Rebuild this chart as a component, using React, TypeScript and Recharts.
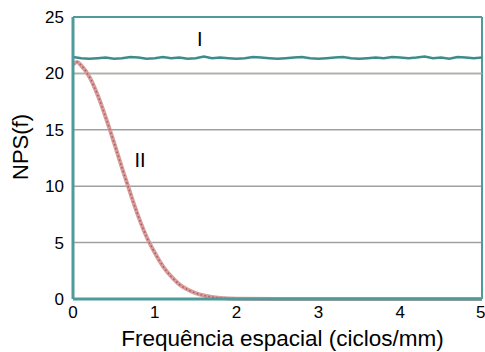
import { LineChart, Line, XAxis, YAxis, CartesianGrid, ReferenceLine, ReferenceDot } from "recharts";

const freqI = [0, 0.1, 0.2, 0.3, 0.4, 0.5, 0.6, 0.7, 0.8, 0.9, 1, 1.1, 1.2, 1.3, 1.4, 1.5, 1.6, 1.7, 1.8, 1.9, 2, 2.1, 2.2, 2.3, 2.4, 2.5, 2.6, 2.7, 2.8, 2.9, 3, 3.1, 3.2, 3.3, 3.4, 3.5, 3.6, 3.7, 3.8, 3.9, 4, 4.1, 4.2, 4.3, 4.4, 4.5, 4.6, 4.7, 4.8, 4.9, 5];
const npsI = [21.45, 21.35, 21.3, 21.35, 21.4, 21.3, 21.35, 21.45, 21.4, 21.3, 21.35, 21.45, 21.35, 21.4, 21.3, 21.35, 21.5, 21.35, 21.4, 21.35, 21.3, 21.35, 21.45, 21.4, 21.35, 21.3, 21.35, 21.4, 21.45, 21.35, 21.3, 21.35, 21.4, 21.45, 21.35, 21.3, 21.35, 21.4, 21.35, 21.45, 21.4, 21.35, 21.4, 21.5, 21.35, 21.4, 21.3, 21.45, 21.4, 21.35, 21.4];

const freqII = [0, 0.05, 0.1, 0.2, 0.3, 0.4, 0.5, 0.6, 0.7, 0.8, 0.9, 1, 1.1, 1.2, 1.3, 1.4, 1.5, 1.6, 1.7, 1.8, 1.9, 2, 2.5, 3, 3.5, 4, 4.5, 5];
const npsII = [20.8, 21.0, 20.7, 19.7, 18.1, 16.1, 13.9, 11.6, 9.4, 7.3, 5.5, 4.1, 2.9, 2.0, 1.3, 0.84, 0.52, 0.31, 0.18, 0.1, 0.05, 0.03, 0, 0, 0, 0, 0, 0];

const xTicks = [0, 1, 2, 3, 4, 5];
const yTicks = [0, 5, 10, 15, 20, 25];

const seriesI = freqI.map((x, i) => ({ x, y: npsI[i] }));
const seriesII = freqII.map((x, i) => ({ x, y: npsII[i] }));

const font = "Arial, 'Liberation Sans', sans-serif";
const teal = "#4f9a9a";

// y axis title sits a little above the plot's middle, as in the source figure
const yTitle = () => (
  <text x={28} y={147} transform="rotate(-90 28 147)" textAnchor="middle" fill="#000" fontSize={22} fontFamily={font}>
    NPS(f)
  </text>
);

export default function App() {
  return (
    <div style={{ position: "absolute", left: 0, top: 0, background: "#fff" }}>
      <LineChart width={485} height={352} margin={{ top: 17, right: 3, bottom: 0, left: 0 }}>
        <CartesianGrid horizontal vertical={false} stroke="#a0a0a0" strokeWidth={1.5} />
        <XAxis
          type="number"
          dataKey="x"
          domain={[0, 5]}
          ticks={xTicks}
          height={53}
          axisLine={{ stroke: teal, strokeWidth: 3 }}
          tickLine={false}
          tick={{ fill: "#000", fontSize: 17, fontFamily: font }}
          tickMargin={1}
          label={{ value: "Frequência espacial (ciclos/mm)", position: "insideBottom", offset: 6, fill: "#000", fontSize: 22.5, fontFamily: font, dx: 5 }}
        />
        <YAxis
          type="number"
          domain={[0, 25]}
          ticks={yTicks}
          width={73}
          axisLine={{ stroke: teal, strokeWidth: 3 }}
          tickLine={false}
          tick={{ fill: "#000", fontSize: 17, fontFamily: font }}
          tickMargin={3}
          label={yTitle}
        />
        <ReferenceLine y={25} stroke={teal} strokeWidth={2} />
        <ReferenceLine x={5} stroke={teal} strokeWidth={2} />
        <ReferenceLine y={20} stroke="#a9b3a0" strokeWidth={1.5} />
        <Line data={seriesII} dataKey="y" type="monotone" stroke="#d79c9c" strokeWidth={4} dot={false} isAnimationActive={false} />
        <Line data={seriesII} dataKey="y" type="monotone" stroke="#b05858" strokeWidth={1.5} strokeDasharray="1.5 2.5" dot={false} isAnimationActive={false} />
        <Line data={seriesI} dataKey="y" type="linear" stroke="#3d8c8c" strokeWidth={2.5} dot={false} isAnimationActive={false} />
        <ReferenceDot x={1.55} y={23.1} r={0} label={{ value: "I", fill: "#000", fontSize: 20, fontFamily: font }} />
        <ReferenceDot x={0.82} y={12.3} r={0} label={{ value: "II", fill: "#000", fontSize: 20, fontFamily: font }} />
      </LineChart>
    </div>
  );
}
